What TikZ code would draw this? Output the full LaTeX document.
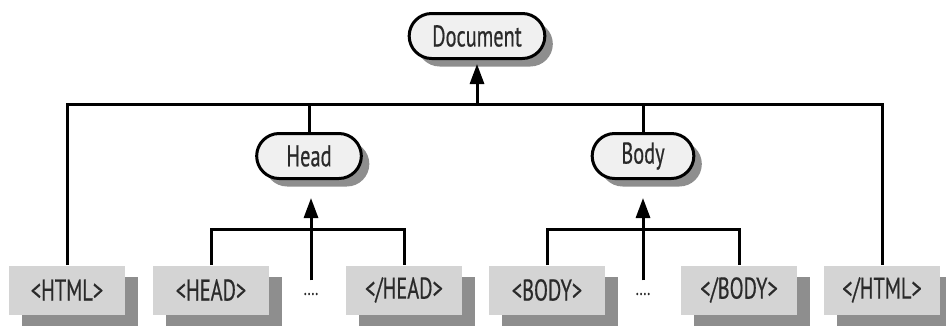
\documentclass[tikz,border=0pt]{standalone}
\usepackage{fontspec}
\setmainfont[FakeStretch=0.68,FakeBold=0.5]{PT Sans}
\usetikzlibrary{shapes.misc,shadows,arrows.meta}
\definecolor{pillfillc}{HTML}{F0F0F0}
\definecolor{tagfillc}{HTML}{D4D4D4}
\definecolor{shadowc}{HTML}{8E8E8E}
\definecolor{textc}{HTML}{2A2A2A}
\tikzstyle{pill} =[
    rounded rectangle,
    draw=black,
    line width=1.5pt,
    fill=pillfillc,
    text=textc,
    font=\fontsize{15}{17}\selectfont,
    minimum height=22.5pt,
    drop shadow={shadow xshift=4pt, shadow yshift=-4pt, fill=shadowc, opacity=1}
    ]
\tikzstyle{tag} =[
    rectangle,
    fill=tagfillc,
    text=textc,
    font=\fontsize{15}{17}\selectfont,
    minimum width=58pt,
    minimum height=24.5pt,
    drop shadow={shadow xshift=6.5pt, shadow yshift=-5.5pt, fill=shadowc, opacity=1}
    ]
\tikzstyle{link} =[line width=1.5pt]
\tikzstyle{uparrow} =[link, -{Triangle[length=10pt,width=7pt]}]

\begin{document}
\begin{tikzpicture}[x=0.5pt, y=-0.5pt]
\useasboundingbox (0,0) rectangle (946,327);

% tree nodes
\node[pill, minimum width=74.5pt] (doc) at (477,36) {Document};
\node[pill, minimum width=59pt] (head) at (309,156) {Head};
\node[pill, minimum width=57.5pt] (body) at (643,156) {Body};

% tags
\node[tag] (html) at (67,290) {<HTML>};
\node[tag] (headopen) at (211,290) {<HEAD>};
\node[text=textc, inner sep=0pt] (headdots) at (311,294) {....};
\node[tag] (headclose) at (404,290) {</HEAD>};
\node[tag] (bodyopen) at (547,290) {<BODY>};
\node[text=textc, inner sep=0pt] (bodydots) at (643,294) {....};
\node[tag] (bodyclose) at (739,290) {</BODY>};
\node[tag] (htmlclose) at (882,290) {</HTML>};

% busses
\coordinate (topbus) at (477,104);
\coordinate (headbus) at (311,229);
\coordinate (bodybus) at (643,229);

\draw[link] (html.north) |- (topbus) -| (htmlclose.north);
\draw[link] (head.north) -- (head.north |- topbus);
\draw[link] (body.north) -- (body.north |- topbus);
\draw[uparrow, shorten >=2pt] (topbus) -- (doc.south);

\draw[link] (headopen.north) |- (headbus) -| (headclose.north);
\draw[link] (bodyopen.north) |- (bodybus) -| (bodyclose.north);
\draw[uparrow, shorten >=9pt] ([yshift=6pt]headdots.north) -- (head.south -| headdots.north);
\draw[uparrow, shorten >=9pt] ([yshift=6pt]bodydots.north) -- (body.south -| bodydots.north);
\end{tikzpicture}
\end{document}
